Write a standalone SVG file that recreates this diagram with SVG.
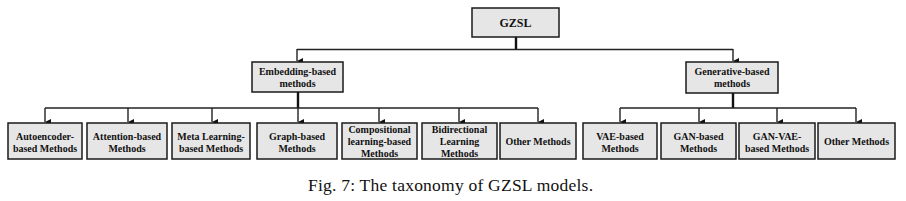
<svg xmlns="http://www.w3.org/2000/svg" width="906" height="201" viewBox="0 0 906 201">
<style>
.box{fill:#e6e6e6;stroke:#1a1a1a;stroke-width:1.5}
.t{font-family:"Liberation Serif","Times New Roman",serif;font-weight:bold;font-size:10px;fill:#111;text-anchor:middle}
.c{fill:none;stroke:#222;stroke-width:1.4}
.thick{fill:none;stroke:#111;stroke-width:2.4}
.cap{font-family:"Liberation Serif","Times New Roman",serif;font-size:17.5px;fill:#111;text-anchor:middle}
</style>
<defs>
<marker id="ah" viewBox="0 0 6 6" refX="3" refY="6" markerWidth="6" markerHeight="6" markerUnits="userSpaceOnUse" orient="auto-start-reverse">
<path d="M0,0 L6,0 L3,6 Z" fill="#111"/>
</marker>
</defs>
<rect width="906" height="201" fill="#fff"/>
<g id="connectors">
<path class="thick" d="M516,37 V49"/>
<path class="c" d="M297,49.5 H733"/>
<path class="c" d="M297,49 V61" marker-end="url(#ah)"/>
<path class="c" d="M733,49 V61" marker-end="url(#ah)"/>
<path class="thick" d="M298,92 V108"/>
<path class="thick" d="M733,93 V108"/>
<path class="c" d="M45,108 H538"/>
<path class="c" d="M620,108 H856"/>
<path class="c" d="M45,108 V122" marker-end="url(#ah)"/>
<path class="c" d="M128,108 V122" marker-end="url(#ah)"/>
<path class="c" d="M212,108 V122" marker-end="url(#ah)"/>
<path class="c" d="M298,108 V122" marker-end="url(#ah)"/>
<path class="c" d="M379,108 V122" marker-end="url(#ah)"/>
<path class="c" d="M459,108 V122" marker-end="url(#ah)"/>
<path class="c" d="M538,108 V122" marker-end="url(#ah)"/>
<path class="c" d="M620,108 V122" marker-end="url(#ah)"/>
<path class="c" d="M699,108 V122" marker-end="url(#ah)"/>
<path class="c" d="M777,108 V122" marker-end="url(#ah)"/>
<path class="c" d="M856,108 V122" marker-end="url(#ah)"/>
</g>
<g id="gzsl"><rect class="box" x="472" y="8" width="87" height="29"/><text class="t" x="515.5" y="27" style="font-size:12px">GZSL</text></g>
<g id="embedding"><rect class="box" x="252" y="62" width="91" height="30"/><text class="t" x="297.5" y="75">Embedding-based</text><text class="t" x="297.5" y="87">methods</text></g>
<g id="generative"><rect class="box" x="686" y="62" width="92" height="31"/><text class="t" x="732" y="75">Generative-based</text><text class="t" x="732" y="87">methods</text></g>
<g id="autoencoder"><rect class="box" x="8" y="123" width="74" height="36"/><text class="t" x="45" y="140">Autoencoder-</text><text class="t" x="45" y="152">based Methods</text></g>
<g id="attention"><rect class="box" x="87" y="123" width="80" height="36"/><text class="t" x="127" y="140">Attention-based</text><text class="t" x="127" y="152">Methods</text></g>
<g id="meta"><rect class="box" x="172" y="123" width="78" height="36"/><text class="t" x="211" y="140">Meta Learning-</text><text class="t" x="211" y="152">based Methods</text></g>
<g id="graph"><rect class="box" x="257" y="123" width="80" height="36"/><text class="t" x="297" y="140">Graph-based</text><text class="t" x="297" y="152">Methods</text></g>
<g id="compositional"><rect class="box" x="342" y="123" width="75" height="36"/><text class="t" x="379.5" y="133">Compositional</text><text class="t" x="379.5" y="145">learning-based</text><text class="t" x="379.5" y="157">Methods</text></g>
<g id="bidirectional"><rect class="box" x="422" y="123" width="75" height="36"/><text class="t" x="459.5" y="133">Bidirectional</text><text class="t" x="459.5" y="145">Learning</text><text class="t" x="459.5" y="157">Methods</text></g>
<g id="other1"><rect class="box" x="500" y="123" width="76" height="36"/><text class="t" x="538" y="145">Other Methods</text></g>
<g id="vae"><rect class="box" x="583" y="123" width="74" height="36"/><text class="t" x="620" y="140">VAE-based</text><text class="t" x="620" y="152">Methods</text></g>
<g id="gan"><rect class="box" x="661" y="123" width="75" height="36"/><text class="t" x="698.5" y="140">GAN-based</text><text class="t" x="698.5" y="152">Methods</text></g>
<g id="ganvae"><rect class="box" x="739" y="123" width="76" height="36"/><text class="t" x="777" y="140">GAN-VAE-</text><text class="t" x="777" y="152">based Methods</text></g>
<g id="other2"><rect class="box" x="818" y="123" width="77" height="36"/><text class="t" x="856.5" y="145">Other Methods</text></g>
<text class="cap" x="450.5" y="191" textLength="285" lengthAdjust="spacing">Fig. 7: The taxonomy of GZSL models.</text>
</svg>
